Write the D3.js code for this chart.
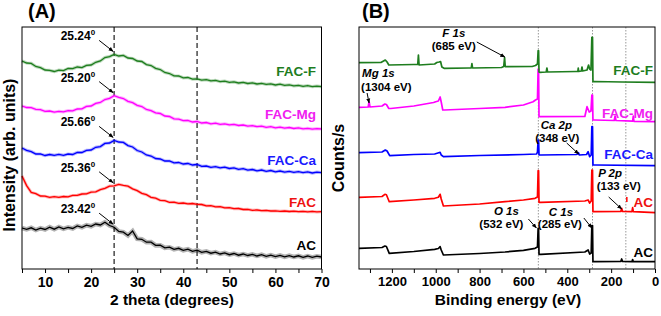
<!DOCTYPE html>
<html>
<head>
<meta charset="utf-8">
<script src="https://cdnjs.cloudflare.com/ajax/libs/d3/7.8.5/d3.min.js"></script>
<style>
  body { margin: 0; background: #fff; }
  svg { display: block; font-family: "Liberation Sans", Arial, sans-serif; font-weight: bold; }
</style>
</head>
<body>
<div id="chart"></div>
<script>
// ---- XRD data (panel A), one value per degree from 5 to 70 ----
var twoTheta = d3.range(5, 71);

var xrdAC = [41, 39.6, 41.2, 39, 40.8, 39.5, 41.9, 39.8, 42, 40.1, 41.6, 40.5, 43.1, 41.6, 43.8, 42.7, 45, 44, 46.8, 43.5,
  41.8, 37.6, 36.8, 33.5, 38, 30.2, 29.7, 26.8, 26.9, 23.6, 23.8, 21.2, 21.8, 19.6, 20.7, 18.7, 19.8, 17.6, 18.8, 16.7,
  17.6, 15.8, 16.9, 15, 16.1, 14.3, 15.5, 13.8, 15, 13.5, 14.6, 13, 14.3, 12.6, 13.9, 12.4, 13.6, 12.1, 13.4, 12,
  13.2, 11.7, 13, 11.6, 12.8, 12];
var xrdFAC = [93, 83.4, 76.6, 75.4, 73, 72.8, 71.6, 72.3, 71.7, 72.5, 72.2, 73.6, 73.7, 75, 75.2, 76.9, 77.2, 79.4, 80.7, 82.9,
  83.2, 84.6, 83.6, 82.8, 80.2, 78.3, 75.7, 74.3, 71.7, 70.8, 68.7, 68.3, 66.7, 66.8, 65.7, 66, 65.2, 65.5, 64.7, 64.5,
  63.2, 63.3, 62.2, 62.3, 61.2, 61.3, 60.3, 60.5, 59.5, 59.7, 58.7, 59, 58.3, 58.6, 58, 58.2, 57.7, 58, 57.5, 57.8,
  57.3, 57.7, 57.2, 57.6, 57.1, 57.3];
var xrdFACCa = [121, 118.6, 117.4, 115, 115, 113.5, 114.5, 113.6, 114.6, 113.7, 115, 114.5, 116.6, 116.5, 118.6, 119, 121.7, 122.4, 125.6, 126,
  128.6, 127, 126.6, 123.4, 122, 118.5, 117, 114, 113, 110.5, 110, 108, 108, 106.2, 106.5, 105, 105.5, 104, 104.5, 102.7,
  103, 101.7, 102.4, 101.1, 101.8, 100.5, 101.1, 99.7, 100.3, 98.9, 99.5, 98.2, 99, 97.7, 98.5, 97.2, 98, 96.9, 97.7, 96.6,
  97.3, 96.3, 97.1, 96, 96.9, 96.3];
var xrdFACMg = [163, 161.5, 161.4, 159.6, 159.3, 157.6, 158, 156.8, 157.7, 157.2, 158.4, 158.2, 160, 160.2, 162.6, 163, 165.6, 166.5, 169.5, 170.6,
  173.4, 171.6, 170.5, 167.6, 166.4, 163.6, 162.5, 159.5, 158.4, 156.1, 155.5, 153, 152.5, 150.2, 149.9, 148.3, 148.5, 147, 147.5, 146,
  146.5, 145.2, 145.8, 144.6, 145.2, 144.1, 144.6, 143.5, 144, 142.9, 143.4, 142.3, 142.9, 141.7, 142.3, 141.2, 141.8, 140.9, 141.5, 140.5,
  141.1, 140.2, 140.7, 139.9, 140.4, 140];
var xrdFACF = [208, 206, 205.6, 202.5, 201.4, 199, 198.6, 197.5, 198.9, 198.4, 200.5, 200.4, 202, 201.3, 203.6, 204, 206.7, 208, 211.5, 212.4,
  214.6, 213, 213.6, 211, 210.5, 208, 207.5, 204.4, 203.5, 200.6, 199.5, 196.5, 195.5, 193.2, 193, 191.2, 191.5, 189.8, 190.2, 188.8,
  189.4, 188.1, 188.7, 187.3, 187.9, 186.6, 187.1, 186, 186.7, 185.5, 186.1, 185, 185.7, 184.6, 185.1, 184, 184.8, 183.6, 184.2, 183.1,
  183.7, 182.7, 183.3, 182.3, 182.9, 182.3];

var xrdNames = ["AC", "FAC", "FAC-Ca", "FAC-Mg", "FAC-F"];
var xrdPeaks = ["23.42", "25.36", "25.66", "25.20", "25.24"];
var xrdRefLines = [25, 43];
var angleTicks = [10, 20, 30, 40, 50, 60, 70];

// ---- XPS survey data (panel B), [binding energy, counts] ----
var xpsAC = [[1350, 20.7], [1245, 21.5], [1232, 23], [1225, 22.5], [1212, 15.7], [1100, 17.5], [1005, 19.7], [988, 20.5],
  [980, 22.3], [975, 19], [965, 14], [800, 15.5], [684, 17], [600, 18.7], [547, 20.7], [536, 22], [533, 40.7], [531, 40.7],
  [529, 14.7], [520, 14.7], [320, 17], [305, 19], [298, 15], [291, 16], [288, 43.5], [285, 43.5], [283, 7.3], [270, 7.3],
  [156, 7.5], [152, 10], [148, 7.5], [105, 7.3], [102, 9.5], [99, 7.3], [0, 7.3]];
var xpsFAC = [[1350, 71.7], [1245, 72.5], [1232, 74.7], [1225, 74.2], [1212, 67.3], [1100, 69], [1005, 70.7], [988, 71.7],
  [980, 74.7], [975, 70], [965, 63], [800, 65], [684, 67.3], [600, 69], [547, 70.7], [536, 72], [533, 98.3], [531, 98.3],
  [529, 66.7], [520, 66.7], [320, 68], [305, 69], [298, 66], [291, 68], [288, 99], [285, 99], [283, 57.3], [270, 57.3],
  [156, 57.5], [152, 60.7], [148, 57.5], [105, 57.3], [102, 61.3], [99, 57.3], [0, 56.3]];
var xpsFACCa = [[1350, 116.3], [1245, 117], [1230, 119], [1222, 118], [1210, 113.3], [1100, 114.5], [1005, 115], [990, 116],
  [980, 116.7], [975, 114], [965, 112.3], [800, 113.5], [600, 114.5], [540, 115], [536, 117], [533, 129], [531, 129],
  [529, 114], [520, 114], [360, 114.5], [352, 115], [349, 116.3], [345, 114], [312, 114.5], [305, 117.3], [298, 112.3],
  [291, 114], [288, 142.3], [285, 142.3], [283, 104], [270, 104], [0, 103.3]];
var xpsFACMg = [[1350, 161.7], [1308, 162], [1304, 167.5], [1300, 162], [1245, 163], [1232, 165], [1225, 164.5], [1214, 160.5],
  [1205, 160.5], [1100, 163], [1010, 166.5], [1000, 167.3], [988, 168], [980, 172], [975, 167], [968, 159], [960, 159],
  [800, 160.5], [684, 161.7], [600, 164], [556, 167.3], [545, 169], [536, 170], [533, 200], [531, 200], [529, 152.3],
  [525, 152.3], [320, 152.5], [310, 162.3], [300, 157], [292, 158], [288, 174], [285, 174], [283, 149], [275, 149],
  [186, 148.5], [182, 153], [178, 148.5], [102, 147.8], [99, 153], [96, 147.5], [0, 147.3]];
var xpsFACF = [[1350, 206.3], [1250, 206.5], [1238, 208], [1230, 209], [1222, 207], [1214, 204], [1100, 204.5], [1082, 204.5],
  [1079, 214], [1076, 204], [1005, 205], [995, 206.5], [985, 207], [978, 207.5], [972, 202], [962, 200.7], [850, 201],
  [838, 201], [835, 205.5], [832, 201], [700, 201.5], [690, 202.5], [686, 211.5], [683, 202.3], [560, 202.5], [545, 203.5],
  [536, 205], [533, 218.3], [531, 218.3], [529, 197], [526, 196.7], [496, 197], [493, 201], [490, 197], [360, 197.5],
  [352, 197.5], [350, 201], [348, 197.5], [336, 198], [333, 202], [330, 198], [310, 199], [303, 204], [298, 200],
  [292, 199], [288, 231.7], [285, 231.7], [283, 187.3], [276, 187.5], [150, 187], [0, 186.7]];

var xpsNames = ["AC", "AC", "FAC-Ca", "FAC-Mg", "FAC-F"];
var xpsRefLines = [532, 285, 133];
var energyTicks = [1200, 1000, 800, 600, 400, 200, 0];
var xpsPeakElements = ["F 1s", "Mg 1s", "Ca 2p", "P 2p", "O 1s", "C 1s"];
var xpsPeakEnergies = ["(685 eV)", "(1304 eV)", "(348 eV)", "(133 eV)", "(532 eV)", "(285 eV)"];
var xpsPeakTips = [[685, 212], [1304, 166], [348, 115], [152, 60], [541, 41], [288, 41]];

var colors = ["#000000", "#ff0000", "#0000ff", "#ff00ff", "#1e7d1e"];
var labelColors = ["#000000", "#ee1111", "#1a1aff", "#f020f0", "#1e7d1e"];

var Chart = (function() {
  var width = 661, height = 316;
  var top = 27, bottom = 269;

  function init() {
    var svg = d3.select("#chart").append("svg")
      .attr("width", width)
      .attr("height", height);

    // one arrowhead shared by all the annotations
    svg.append("defs").append("marker")
      .attr("id", "arrow")
      .attr("viewBox", "0 0 10 10")
      .attr("refX", 9).attr("refY", 5)
      .attr("markerWidth", 5).attr("markerHeight", 5)
      .attr("orient", "auto")
      .append("path")
      .attr("d", "M0,1 L10,5 L0,9 z")
      .attr("fill", "#000");

    drawXRD(svg);
    drawXPS(svg);
  }

  function frame(svg, x0, x1) {
    svg.append("rect")
      .attr("x", x0).attr("y", top)
      .attr("width", x1 - x0).attr("height", bottom - top)
      .attr("fill", "none").attr("stroke", "#000").attr("stroke-width", 1);
  }

  function bottomAxis(svg, scale, ticks, labels, fontSize) {
    var g = svg.append("g")
      .attr("transform", "translate(0," + bottom + ")")
      .call(d3.axisBottom(scale)
        .tickValues(ticks)
        .tickSize(4)
        .tickPadding(4)
        .tickFormat(function(d) { return labels.indexOf(d) >= 0 ? d : ""; }));
    g.select(".domain").remove();
    g.selectAll("text").attr("font-size", fontSize).attr("font-weight", "bold")
      .attr("font-family", "Liberation Sans, Arial, sans-serif").attr("fill", "#000");
    g.selectAll("line").attr("stroke", "#000");
  }

  function drawXRD(svg) {
    var x = d3.scaleLinear().domain([5, 70]).range([22, 321.5]);
    var y = d3.scaleLinear().domain([0, 242]).range([bottom, top]);
    var series = [xrdAC, xrdFAC, xrdFACCa, xrdFACMg, xrdFACF];
    // the AC trace is much noisier than the others
    var haloWidth = [4.5, 3, 3.2, 3.2, 3.2];

    // dashed reference lines
    svg.selectAll(".xrd-ref").data(xrdRefLines).enter().append("line")
      .attr("x1", function(d) { return x(d); }).attr("x2", function(d) { return x(d); })
      .attr("y1", top).attr("y2", bottom)
      .attr("stroke", "#555").attr("stroke-width", 1.6).attr("stroke-dasharray", "5,3");

    var line = d3.line()
      .x(function(d, i) { return x(twoTheta[i]); })
      .y(function(d) { return y(d); });

    // light halo first so the traces read as noisy bands
    series.forEach(function(s, i) {
      svg.append("path").attr("d", line(s)).attr("fill", "none")
        .attr("stroke", colors[i]).attr("stroke-opacity", 0.3).attr("stroke-width", haloWidth[i]);
      svg.append("path").attr("d", line(s)).attr("fill", "none")
        .attr("stroke", colors[i]).attr("stroke-width", 1.3);
    });

    frame(svg, 22, 321.5);
    bottomAxis(svg, x, d3.range(5, 71, 5), angleTicks, 14);

    // series names at the right
    var nameY = [250, 207, 165, 119, 75.5];
    xrdNames.forEach(function(n, i) {
      svg.append("text").attr("x", 316).attr("y", nameY[i])
        .attr("text-anchor", "end").attr("font-size", 13.5)
        .attr("fill", labelColors[i]).text(n);
    });

    // peak position labels with arrows into the hump at 25 degrees
    var peakIdx = twoTheta.indexOf(25);
    xrdPeaks.forEach(function(p, i) {
      var tx = x(25) - 1, ty = y(series[i][peakIdx]) - 3;
      var sx = tx - 14, sy = ty - 11;
      svg.append("line")
        .attr("x1", sx).attr("y1", sy).attr("x2", tx).attr("y2", ty)
        .attr("stroke", "#000").attr("stroke-width", 1)
        .attr("marker-end", "url(#arrow)");
      var t = svg.append("text").attr("x", sx - 4).attr("y", sy)
        .attr("text-anchor", "end").attr("font-size", 12);
      t.append("tspan").text(p);
      t.append("tspan").attr("dy", -5).attr("font-size", 8).text("0");
    });

    svg.append("text").attr("x", 172).attr("y", 305)
      .attr("text-anchor", "middle").attr("font-size", 15.5).text("2 theta (degrees)");
    svg.append("text")
      .attr("transform", "translate(15,155) rotate(-90)")
      .attr("text-anchor", "middle").attr("font-size", 16).text("Intensity (arb. units)");
    svg.append("text").attr("x", 28).attr("y", 18).attr("font-size", 20).text("(A)");
  }

  function drawXPS(svg) {
    var x = d3.scaleLinear().domain([1350, 0]).range([359, 655]);
    var y = d3.scaleLinear().domain([0, 242]).range([bottom, top]);
    var series = [xpsAC, xpsFAC, xpsFACCa, xpsFACMg, xpsFACF];

    svg.selectAll(".xps-ref").data(xpsRefLines).enter().append("line")
      .attr("x1", function(d) { return x(d); }).attr("x2", function(d) { return x(d); })
      .attr("y1", top).attr("y2", bottom)
      .attr("stroke", "#999").attr("stroke-width", 1).attr("stroke-dasharray", "1.5,1.5");

    var line = d3.line()
      .x(function(d) { return x(d[0]); })
      .y(function(d) { return y(d[1]); });

    series.forEach(function(s, i) {
      svg.append("path").attr("d", line(s)).attr("fill", "none")
        .attr("stroke", colors[i]).attr("stroke-width", 1.7)
        .attr("stroke-linejoin", "round");
    });

    frame(svg, 359, 655);
    bottomAxis(svg, x, d3.range(1300, -1, -100), energyTicks, 13);

    var nameY = [256.7, 207, 158.5, 118, 75];
    xpsNames.forEach(function(n, i) {
      svg.append("text").attr("x", 653).attr("y", nameY[i])
        .attr("text-anchor", "end").attr("font-size", 13.5)
        .attr("fill", labelColors[i]).text(n);
    });
    // small red stub left over next to the red trace label
    svg.append("line")
      .attr("x1", x(133) + 1).attr("x2", x(133) + 1)
      .attr("y1", 197).attr("y2", 202)
      .attr("stroke", colors[1]).attr("stroke-width", 1.5);

    // annotation layout: [text anchor, name dx, name dy, energy dx, energy dy, arrow-start dx, dy]
    var layout = [
      ["middle", -51, -20.5, -51, -7.5, -28, -15],
      ["start", -7, -26.5, -8, -12.5, -2, -10],
      ["start", -38, -25.5, -43.5, -12.5, -12, -11],
      ["start", -23.5, -32, -25, -19, -13, -12],
      ["middle", -30, -13.5, -35, -0.5, -8, -9],
      ["start", -43, -12.5, -54, -0.5, -8, -10]
    ];
    xpsPeakElements.forEach(function(el, i) {
      var L = layout[i];
      var tx = x(xpsPeakTips[i][0]), ty = y(xpsPeakTips[i][1]);
      svg.append("line")
        .attr("x1", tx + L[5]).attr("y1", ty + L[6]).attr("x2", tx).attr("y2", ty)
        .attr("stroke", "#000").attr("stroke-width", 1)
        .attr("marker-end", "url(#arrow)");
      svg.append("text").attr("x", tx + L[1]).attr("y", ty + L[2])
        .attr("text-anchor", L[0]).attr("font-size", 11.5).attr("font-style", "italic").text(el);
      svg.append("text").attr("x", tx + L[3]).attr("y", ty + L[4])
        .attr("text-anchor", L[0]).attr("font-size", 11.5).text(xpsPeakEnergies[i]);
    });

    svg.append("text").attr("x", 508).attr("y", 305)
      .attr("text-anchor", "middle").attr("font-size", 15.5).text("Binding energy (eV)");
    svg.append("text")
      .attr("transform", "translate(344,158) rotate(-90)")
      .attr("text-anchor", "middle").attr("font-size", 16).text("Counts/s");
    svg.append("text").attr("x", 362).attr("y", 18).attr("font-size", 20).text("(B)");
  }

  return {
    init: init
  };
})();

Chart.init();
</script>
</body>
</html>
